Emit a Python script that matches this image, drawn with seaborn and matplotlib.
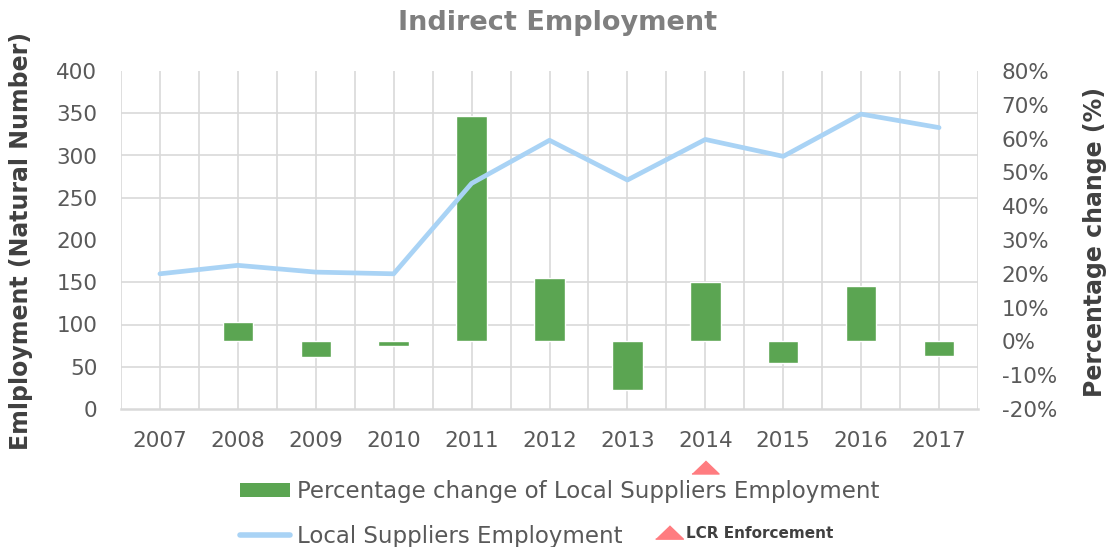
import matplotlib
matplotlib.use("Agg")
import matplotlib.pyplot as plt
import matplotlib.transforms as mtransforms
from matplotlib.lines import Line2D
from matplotlib.patches import Patch
from matplotlib.ticker import FuncFormatter, MultipleLocator, FixedLocator
import seaborn as sns
import pandas as pd
import numpy as np

# ---------------- data ----------------
years = ["2007", "2008", "2009", "2010", "2011", "2012",
         "2013", "2014", "2015", "2016", "2017"]
employment = [160, 170, 162, 160, 267, 318, 271, 319, 299, 349, 333]
pct_change = [np.nan, 5.6, -4.6, -1.3, 66.7, 18.7, -14.5, 17.6, -6.5, 16.5, -4.3]
lcr_year = "2014"

left_ticks = [0, 50, 100, 150, 200, 250, 300, 350, 400]
right_ticks = [-20, -10, 0, 10, 20, 30, 40, 50, 60, 70, 80]

title = "Indirect Employment"
left_label = "Emlployment (Natural Number)"
right_label = "Percentage change (%)"
bar_label = "Percentage change of Local Suppliers Employment"
line_label = "Local Suppliers Employment"
lcr_label = "LCR Enforcement"

df = pd.DataFrame({"year": years, "employment": employment, "pct": pct_change})

# ---------------- style ----------------
sns.set_style("white")
plt.rcParams["font.family"] = ["DejaVu Sans"]

GREEN = "#5BA552"
BLUE = "#A9D3F5"
PINK = "#FF7C80"
TICK = "#595959"
GRID = "#D9D9D9"
LABEL = "#404040"

fig = plt.figure(figsize=(11.12, 5.47), dpi=100)
ax_bar = fig.add_axes([121 / 1112, 1 - 409 / 547, (978 - 121) / 1112, (409 - 71) / 547])

sns.barplot(data=df, x="year", y="pct", order=years, ax=ax_bar,
            color=GREEN, saturation=1, width=0.39, zorder=3)

# line on twin axis (left scale)
ax_line = ax_bar.twinx()
sns.lineplot(data=df, x="year", y="employment", ax=ax_line, color=BLUE,
             lw=3.4, sort=False, zorder=4)

# ---- bar axis (right scale) ----
ax_bar.set_ylim(right_ticks[0], right_ticks[-1])
ax_bar.set_xlim(-0.5, len(years) - 0.5)
ax_bar.yaxis.tick_right()
ax_bar.yaxis.set_label_position("right")
ax_bar.set_yticks(right_ticks)
ax_bar.yaxis.set_major_formatter(FuncFormatter(lambda v, p: f"{v:.0f}%"))

lo, hi = right_ticks[0], right_ticks[-1]
grid_pos = [lo + (v - left_ticks[0]) / (left_ticks[-1] - left_ticks[0]) * (hi - lo) for v in left_ticks]
ax_bar.yaxis.set_minor_locator(FixedLocator(grid_pos))
ax_bar.xaxis.set_minor_locator(MultipleLocator(0.5))
ax_bar.grid(False)
ax_bar.grid(True, which="minor", axis="both", color=GRID, lw=1.2)
ax_bar.grid(True, which="major", axis="x", color=GRID, lw=1.2)
ax_bar.set_axisbelow(True)
ax_bar.tick_params(which="both", length=0)
ax_bar.tick_params(axis="y", which="major", pad=17, labelsize=15.5, labelcolor=TICK,
                   left=False, labelleft=False, right=True, labelright=True)
ax_bar.tick_params(axis="x", which="major", pad=16, labelsize=15.5, labelcolor=TICK)
for s in ["top", "left", "right"]:
    ax_bar.spines[s].set_visible(False)
ax_bar.spines["bottom"].set_color(GRID)
ax_bar.spines["bottom"].set_linewidth(1.8)
ax_bar.set_xlabel("")
ax_bar.set_ylabel(right_label, fontsize=17, fontweight="bold", color=LABEL)
ax_bar.yaxis.set_label_coords(1.1225, 0.495)

# ---- line axis (left scale) ----
ax_line.yaxis.tick_left()
ax_line.yaxis.set_label_position("left")
ax_line.set_ylim(left_ticks[0], left_ticks[-1])
ax_line.set_yticks(left_ticks)
ax_line.set_xlim(-0.5, len(years) - 0.5)
ax_line.tick_params(length=0)
ax_line.tick_params(axis="y", pad=17, labelsize=15.5, labelcolor=TICK,
                    right=False, labelright=False, left=True, labelleft=True)
for s in ax_line.spines.values():
    s.set_visible(False)
ax_line.set_xlabel("")
ax_line.set_ylabel(left_label, fontsize=17, fontweight="bold", color=LABEL)
ax_line.yaxis.set_label_coords(-0.103, 0.496)
ax_line.grid(False)

# LCR enforcement marker below the 2014 label
tri = [(-1, -0.48), (1, -0.48), (0, 0.48)]
trans = mtransforms.blended_transform_factory(ax_bar.transData, ax_bar.transAxes)
ax_bar.plot([years.index(lcr_year)], [-(466.5 - 409) / 338], marker=tri, ms=19.5,
            color=PINK, ls="none", transform=trans, clip_on=False)

# title
fig.text(558 / 1112, 1 - 23 / 547, title, ha="center", va="center",
         fontsize=19.5, fontweight="bold", color="#7F7F7F")

# legends
h_bar = Patch(facecolor=GREEN, edgecolor="none", label=bar_label)
h_line = Line2D([], [], color=BLUE, lw=4, label=line_label)
leg1 = fig.legend(handles=[h_bar, h_line], loc="upper left",
                  bbox_to_anchor=(240 / 1112, 1 - 480 / 547), frameon=False,
                  fontsize=16.5, handlelength=2.2, handleheight=0.6,
                  handletextpad=0.3, labelspacing=0.95, borderpad=0, borderaxespad=0)
for t in leg1.get_texts():
    t.set_color(TICK)
h_lcr = Line2D([], [], color=PINK, marker=tri, ms=20, ls="none", label=lcr_label)
leg2 = fig.legend(handles=[h_lcr], loc="center left",
                  bbox_to_anchor=(660 / 1112, 1 - 533 / 547), frameon=False,
                  prop={"weight": "bold", "size": 11}, handlelength=1.2,
                  handletextpad=0.5, borderpad=0, borderaxespad=0)
for t in leg2.get_texts():
    t.set_color(LABEL)

fig.savefig("out.png", dpi=100)
